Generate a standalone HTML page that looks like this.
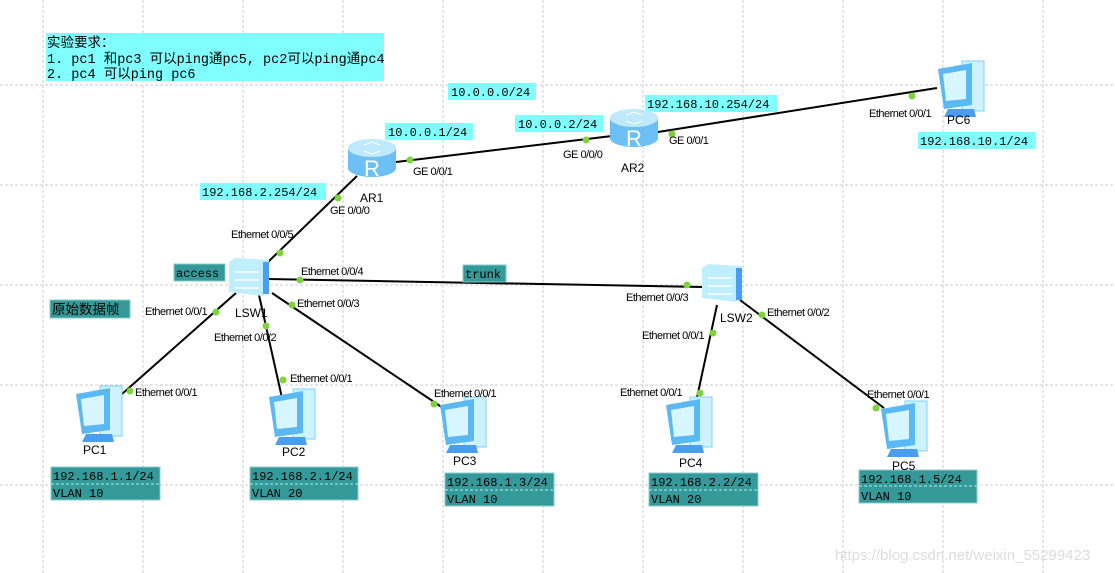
<!DOCTYPE html>
<html><head><meta charset="utf-8"><style>
body{margin:0;width:1115px;height:573px;overflow:hidden;background:#fff}
svg{display:block}
.l{font-family:"Liberation Sans",sans-serif;font-size:11px;fill:#000;letter-spacing:-0.5px}
.n{font-family:"Liberation Sans",sans-serif;font-size:12px;fill:#000}
.m{font-family:"Liberation Mono","Noto Sans CJK SC",monospace;font-size:12px;fill:#000}
.c{font-family:"Liberation Mono","Noto Sans CJK SC",monospace;font-size:13.5px;fill:#000}
</style></head><body>
<svg width="1115" height="573" xmlns="http://www.w3.org/2000/svg">
<defs>
<g id="pc">
 <rect x="26" y="-6" width="22" height="50" fill="#cdf3ff" stroke="#7fcfff"/>
 <polygon points="2,2 36,-4 36,38 8,42" fill="#5ab8f5"/>
 <polygon points="7,7 30,3 30,32 10,34" fill="#d8f6ff"/>
 <polygon points="12,42 38,42 40,50 8,50" fill="#4a9ef0"/>
</g>
<g id="rt">
 <path d="M0,10 v20 a24,9 0 0 0 48,0 v-20" fill="#6cc0f5"/>
 <ellipse cx="24" cy="10" rx="24" ry="9" fill="#bfe9ff"/>
 <path d="M16,7 l8,-3 l8,3 M16,13 l8,3 l8,-3" stroke="#fff" fill="none"/>
 <text x="24" y="38" text-anchor="middle" font-family="Liberation Sans" font-size="22" fill="#fff">R</text>
</g>
<g id="sw">
 <polygon points="0,4 6,0 40,2 40,34 34,38 0,34" fill="#bfefff"/>
 <rect x="34" y="4" width="6" height="32" fill="#4a9ef0"/>
 <path d="M6,14 h24 M6,22 h24 M6,30 h24" stroke="#fff" stroke-width="1.5"/>
</g>
</defs>
<g stroke="#ccc" stroke-dasharray="3,2" stroke-width="1">
<path d="M43,0V573M143,0V573M243,0V573M343,0V573M443,0V573M543,0V573M643,0V573M743,0V573M843,0V573M943,0V573M1043,0V573"/>
<path d="M0,85H1115M0,185H1115M0,285H1115M0,385H1115M0,485H1115"/>
</g>
<g stroke="#000" stroke-width="2" fill="none">
<path d="M396,162L612,136"/><path d="M658,132L937,88"/>
<path d="M357,176L268,262"/><path d="M268,279L702,287"/>
<path d="M236,293L122,394"/><path d="M259,295L282,398"/><path d="M272,293L446,410"/>
<path d="M717,305L696,402"/><path d="M740,300L884,408"/>
</g>
<g fill="#7ed23a">
<circle cx="410" cy="160" r="3.5"/><circle cx="586" cy="140" r="3.5"/><circle cx="672" cy="134" r="3.5"/><circle cx="912" cy="96" r="3.5"/>
<circle cx="338" cy="198" r="3.5"/><circle cx="280" cy="253" r="3.5"/><circle cx="300" cy="280" r="3.5"/><circle cx="687" cy="285" r="3.5"/>
<circle cx="292" cy="305" r="3.5"/><circle cx="266" cy="326" r="3.5"/><circle cx="216" cy="312" r="3.5"/>
<circle cx="130" cy="391" r="3.5"/><circle cx="283" cy="380" r="3.5"/><circle cx="434" cy="404" r="3.5"/>
<circle cx="713" cy="333" r="3.5"/><circle cx="700" cy="393" r="3.5"/><circle cx="762" cy="315" r="3.5"/><circle cx="876" cy="408" r="3.5"/>
</g>
<rect x="46" y="33" width="338" height="48" fill="#80ffff"/>
<text class="c" x="47" y="47">实验要求：</text>
<text class="c" x="47" y="63">1. pc1 和pc3 可以ping通pc5, pc2可以ping通pc4</text>
<text class="c" x="47" y="78">2. pc4 可以ping pc6</text>
<g fill="#80ffff">
<rect x="448" y="83" width="88" height="17"/><rect x="385" y="123" width="88" height="17"/><rect x="515" y="115" width="88" height="17"/>
<rect x="645" y="95" width="132" height="17"/><rect x="918" y="132" width="118" height="17"/><rect x="200" y="183" width="126" height="17"/>
</g>
<text class="m" x="451" y="96">10.0.0.0/24</text><text class="m" x="388" y="136">10.0.0.1/24</text><text class="m" x="518" y="128">10.0.0.2/24</text>
<text class="m" x="647" y="108">192.168.10.254/24</text><text class="m" x="920" y="145">192.168.10.1/24</text><text class="m" x="202" y="196">192.168.2.254/24</text>
<g fill="#339999" stroke="#8cc" stroke-width="1">
<rect x="174" y="264" width="51" height="17"/><rect x="463" y="265" width="43" height="17"/><rect x="50" y="300" width="80" height="18"/>
<rect x="51" y="467" width="109" height="33"/><rect x="250" y="467" width="108" height="33"/><rect x="445" y="473" width="109" height="33"/>
<rect x="649" y="473" width="109" height="33"/><rect x="859" y="470" width="118" height="33"/>
</g>
<g stroke="#aee" stroke-dasharray="3,2"><path d="M51,484H160M250,484H358M445,490H554M649,490H758M859,486H977"/></g>
<text class="m" x="176" y="277">access</text><text class="m" x="465" y="278">trunk</text>
<text class="c" x="52" y="314">原始数据帧</text>
<text class="m" x="53" y="480">192.168.1.1/24</text><text class="m" x="53" y="497">VLAN 10</text>
<text class="m" x="252" y="480">192.168.2.1/24</text><text class="m" x="252" y="497">VLAN 20</text>
<text class="m" x="447" y="486">192.168.1.3/24</text><text class="m" x="447" y="503">VLAN 10</text>
<text class="m" x="651" y="486">192.168.2.2/24</text><text class="m" x="651" y="503">VLAN 20</text>
<text class="m" x="861" y="483">192.168.1.5/24</text><text class="m" x="861" y="500">VLAN 10</text>
<use href="#rt" x="348" y="138"/><use href="#rt" x="610" y="108"/>
<use href="#sw" x="229" y="258"/><use href="#sw" x="702" y="264"/>
<use href="#pc" x="936" y="67"/><use href="#pc" x="74" y="392"/><use href="#pc" x="267" y="395"/><use href="#pc" x="438" y="403"/><use href="#pc" x="664" y="403"/><use href="#pc" x="879" y="407"/>
<text class="n" x="360" y="202">AR1</text><text class="n" x="621" y="172">AR2</text><text class="n" x="235" y="317">LSW1</text><text class="n" x="720" y="322">LSW2</text>
<text class="n" x="947" y="124">PC6</text><text class="n" x="83" y="454">PC1</text><text class="n" x="282" y="456">PC2</text><text class="n" x="453" y="465">PC3</text><text class="n" x="679" y="467">PC4</text><text class="n" x="892" y="470">PC5</text>
<g class="l">
<text x="413" y="175">GE 0/0/1</text><text x="563" y="158">GE 0/0/0</text><text x="669" y="144">GE 0/0/1</text><text x="869" y="117">Ethernet 0/0/1</text>
<text x="330" y="214">GE 0/0/0</text><text x="231" y="238">Ethernet 0/0/5</text><text x="301" y="275">Ethernet 0/0/4</text><text x="626" y="301">Ethernet 0/0/3</text>
<text x="297" y="307">Ethernet 0/0/3</text><text x="145" y="315">Ethernet 0/0/1</text><text x="214" y="341">Ethernet 0/0/2</text>
<text x="135" y="396">Ethernet 0/0/1</text><text x="290" y="382">Ethernet 0/0/1</text><text x="434" y="397">Ethernet 0/0/1</text>
<text x="642" y="339">Ethernet 0/0/1</text><text x="767" y="316">Ethernet 0/0/2</text><text x="620" y="396">Ethernet 0/0/1</text><text x="867" y="398">Ethernet 0/0/1</text>
</g>
<text x="835" y="560" font-family="Liberation Sans" font-size="15" fill="#ddd">https://blog.csdn.net/weixin_55299423</text>
</svg>
</body></html>
